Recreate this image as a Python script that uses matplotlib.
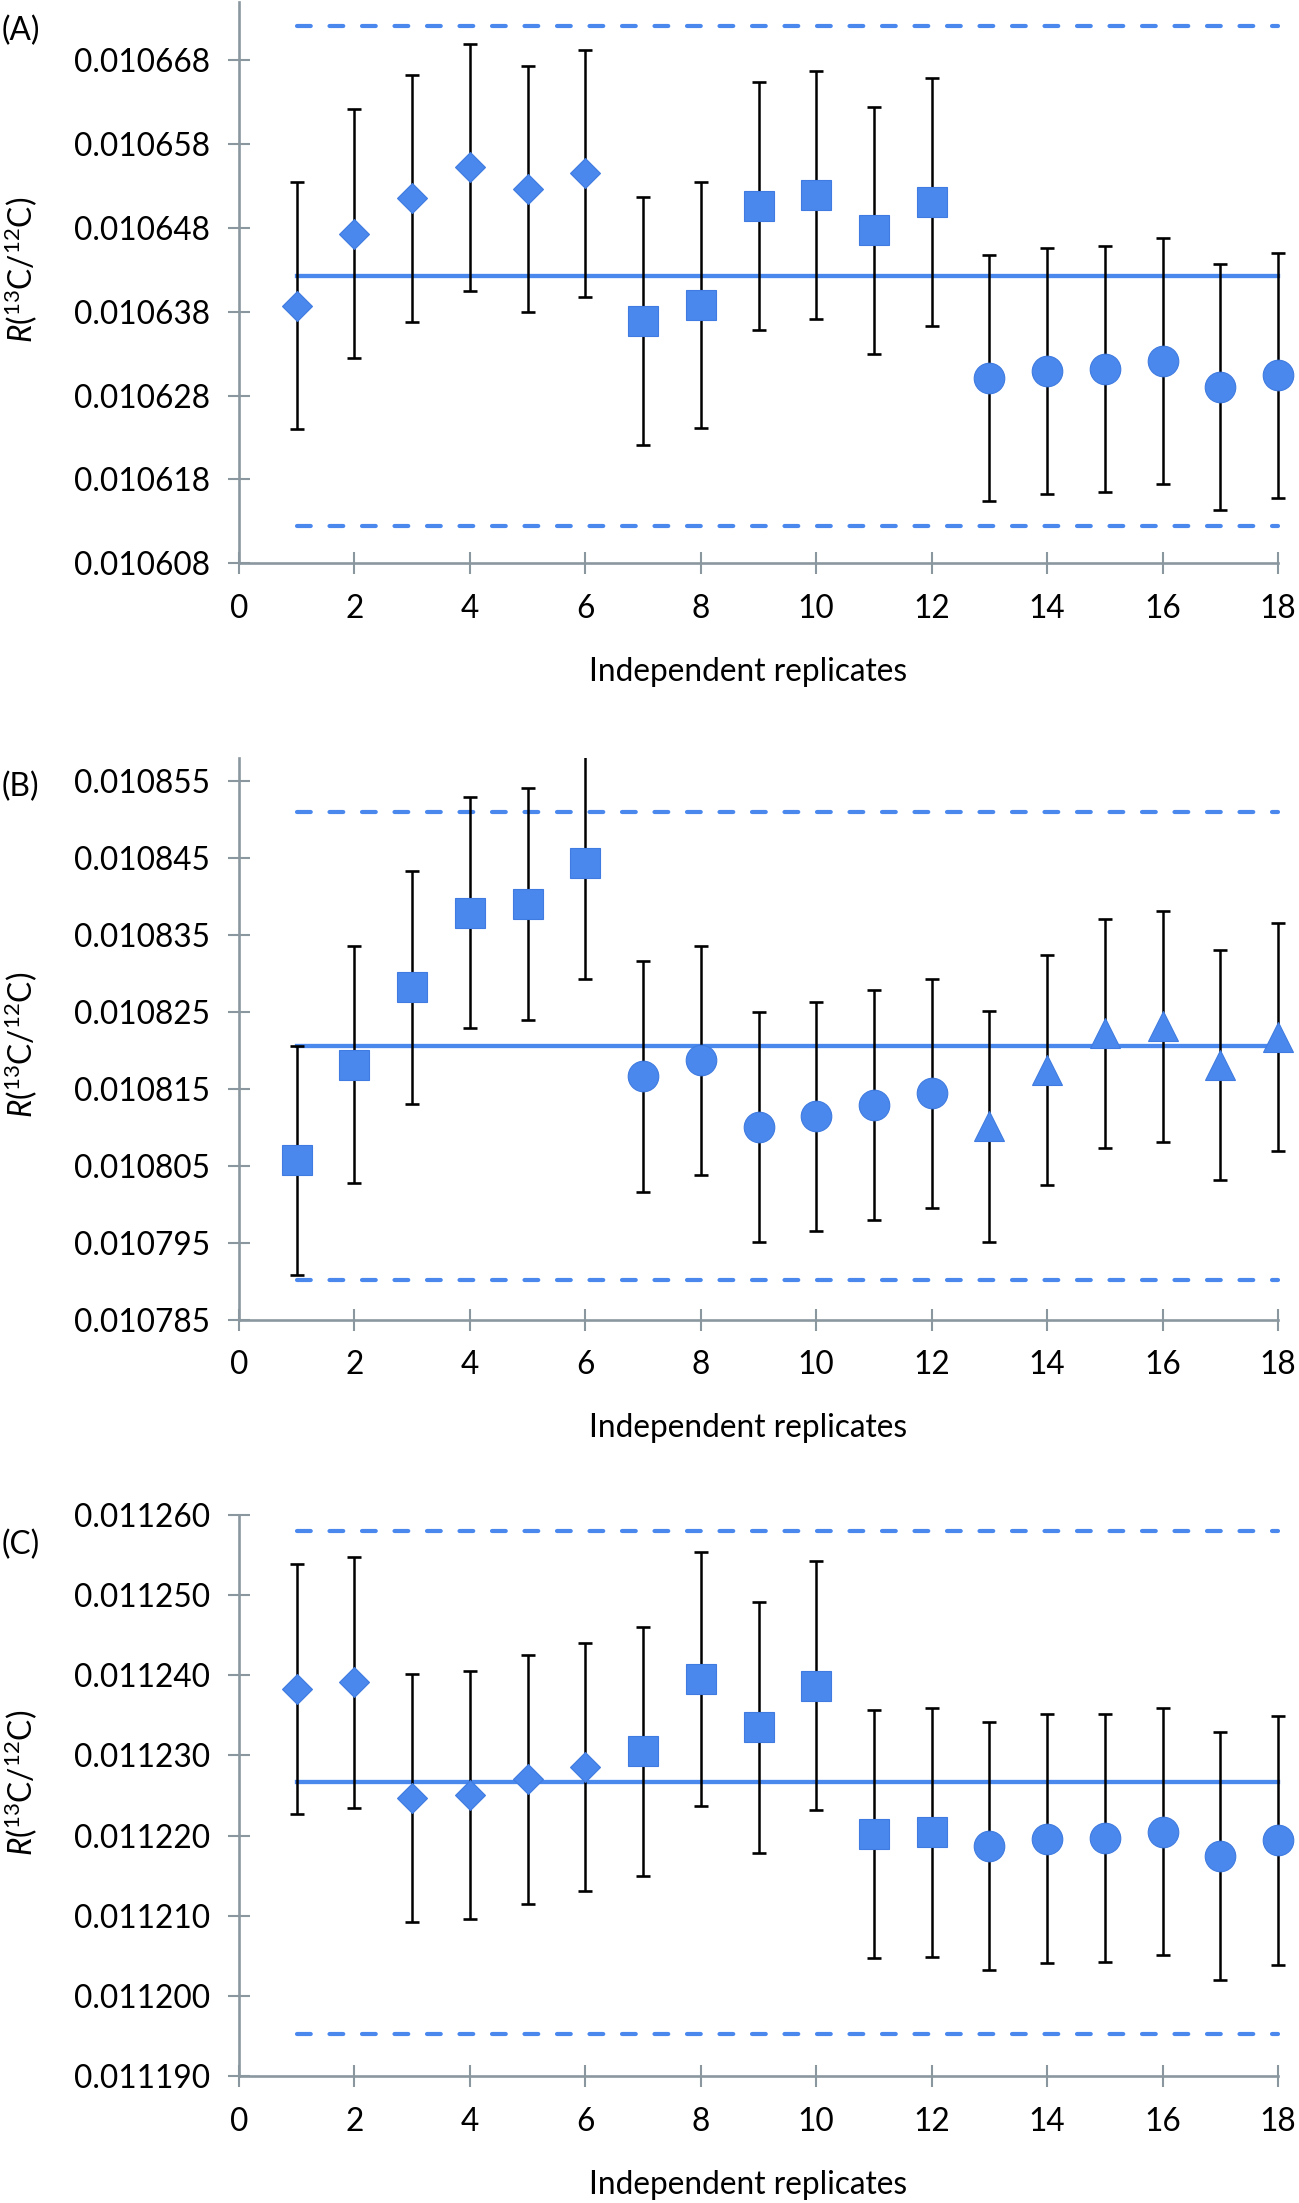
import numpy as np
import matplotlib
matplotlib.use('Agg')
import matplotlib.pyplot as plt
from matplotlib.patches import Rectangle

plt.rcParams['font.family'] = ['Lato', 'DejaVu Sans']
plt.rcParams['mathtext.fontset'] = 'custom'
plt.rcParams['mathtext.rm'] = 'Lato'
plt.rcParams['mathtext.it'] = 'Lato:italic'

W, H = 1299, 2203

replicates = list(range(1, 19))

# panel A
a_ratio = [0.0106387, 0.0106473, 0.0106515, 0.0106552, 0.0106526, 0.0106545,
           0.0106369, 0.0106388, 0.0106506, 0.0106519, 0.0106477, 0.0106511,
           0.0106301, 0.0106309, 0.0106312, 0.0106321, 0.0106290, 0.0106304]
a_err = [14.72, 14.80, 14.70, 14.72, 14.70, 14.70, 14.80, 14.70, 14.75,
         14.72, 14.70, 14.78, 14.64, 14.64, 14.64, 14.62, 14.64, 14.62]
a_mean, a_upper, a_lower = 0.0106422, 0.0106720, 0.0106125
a_markers = ['D'] * 6 + ['s'] * 6 + ['o'] * 6

# panel B
b_ratio = [0.0108057, 0.0108181, 0.0108282, 0.0108379, 0.0108390, 0.0108444,
           0.0108166, 0.0108187, 0.0108100, 0.0108114, 0.0108129, 0.0108144,
           0.0108101, 0.0108174, 0.0108222, 0.0108231, 0.0108181, 0.0108217]
b_err = [14.92, 15.41, 15.12, 15.03, 15.09, 15.15, 14.97, 14.92, 14.92,
         14.92, 14.94, 14.86, 15.00, 14.97, 14.92, 14.97, 14.94, 14.83]
b_mean, b_upper, b_lower = 0.0108206, 0.0108510, 0.0107902
b_markers = ['s'] * 6 + ['o'] * 6 + ['^'] * 6

# panel C
c_ratio = [0.0112383, 0.0112391, 0.0112247, 0.0112251, 0.0112270, 0.0112286,
           0.0112305, 0.0112395, 0.0112335, 0.0112387, 0.0112202, 0.0112204,
           0.0112187, 0.0112196, 0.0112197, 0.0112205, 0.0112175, 0.0112194]
c_err = [15.63, 15.63, 15.49, 15.49, 15.49, 15.49, 15.57, 15.83, 15.63,
         15.57, 15.46, 15.49, 15.49, 15.51, 15.49, 15.46, 15.46, 15.49]
c_mean, c_upper, c_lower = 0.0112267, 0.0112580, 0.0111953
c_markers = ['D'] * 6 + ['s'] * 6 + ['o'] * 6

panels = [
    # name, values, errors (1e-6), mean, upper, lower, markers, ylim, ytick max,
    # axes top/bottom px, ylabel y px, panel label y px, xlabel y px
    ('(A)', a_ratio, a_err, a_mean, a_upper, a_lower, a_markers,
     (0.010608, 0.0106749), 0.010668, 2, 563.4, 270, 31, 672),
    ('(B)', b_ratio, b_err, b_mean, b_upper, b_lower, b_markers,
     (0.010785, 0.010858), 0.010855, 758, 1319.5, 1045, 787, 1428),
    ('(C)', c_ratio, c_err, c_mean, c_upper, c_lower, c_markers,
     (0.011190, 0.011260), 0.011260, 1515, 2076, 1783, 1545, 2185),
]

blue = '#4A88EE'
edge = '#3F7BE0'
axis_gray = '#8A979F'
fs = 22.8
msize = {'D': 15.5, 's': 21.5, 'o': 22.0, '^': 22.0}

fig = plt.figure(figsize=(W / 100, H / 100), dpi=100)

left, right = 239, 1278
for (name, vals, errs, mean, upper, lower, markers, ylim, ytop,
     top_px, bot_px, ylab_y, plab_y, xlab_y) in panels:
    ax = fig.add_axes([left / W, 1 - bot_px / H, (right - left) / W, (bot_px - top_px) / H])
    ax.set_xlim(0, 18)
    ax.set_ylim(*ylim)

    # clip only top/bottom, let the last column stick out on the right
    clip = Rectangle((-0.05, 0), 1.1, 1, transform=ax.transAxes, fill=False,
                     visible=False)
    ax.add_patch(clip)

    # limits and mean
    for yv in (upper, lower):
        ax.plot([1, 18], [yv, yv], color=blue, lw=3.0, dashes=(3.3, 4.5),
                dash_capstyle='round', zorder=2, clip_on=False)
    ax.plot([1, 18], [mean, mean], color=blue, lw=3.1, zorder=2, clip_on=False)

    for x, v, e, m in zip(replicates, vals, errs, markers):
        eb = ax.errorbar(x, v, yerr=e * 1e-6, fmt='none', ecolor='black',
                         elinewidth=1.8, capsize=5.3, capthick=1.9, zorder=3)
        for art in eb.lines[1] + eb.lines[2]:
            art.set_clip_path(clip)
        ax.plot(x, v, marker=m, ms=msize[m], color=blue, mec=edge, mew=0.8,
                ls='none', zorder=4, clip_on=False)

    ax.set_xticks(range(0, 19, 2))
    yt = np.round(np.arange(ylim[0], ytop + 1e-9, 1e-5), 6)
    ax.set_yticks(yt)
    ax.set_yticklabels(['%.6f' % t for t in yt])
    for s in ['top', 'right']:
        ax.spines[s].set_visible(False)
    for s in ['left', 'bottom']:
        ax.spines[s].set_color(axis_gray)
        ax.spines[s].set_linewidth(1.9)
    ax.tick_params(axis='both', direction='inout', length=16, width=1.5,
                   color=axis_gray, labelsize=fs, labelcolor='black')
    ax.tick_params(axis='x', pad=14)
    ax.tick_params(axis='y', pad=13)

    fig.text(21 / W, 1 - ylab_y / H, r'$R$($^{13}$C/$^{12}$C)', rotation=90,
             ha='center', va='center', fontsize=fs)
    fig.text(2 / W, 1 - plab_y / H, name, ha='left', va='center', fontsize=fs)
    fig.text(748 / W, 1 - xlab_y / H, 'Independent replicates', ha='center',
             va='center', fontsize=fs)

fig.savefig('out.png', dpi=100)
